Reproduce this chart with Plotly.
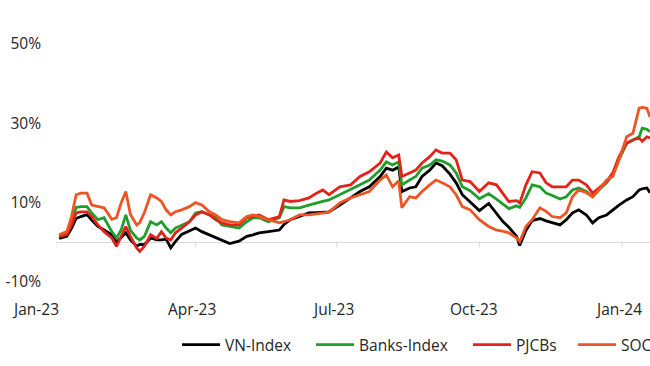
import plotly.graph_objects as go

dates = [
    "2023-01-03", "2023-01-08", "2023-01-11", "2023-01-14", "2023-01-17", "2023-01-21", "2023-01-24",
    "2023-01-28", "2023-02-01", "2023-02-06", "2023-02-09", "2023-02-12", "2023-02-15", "2023-02-18",
    "2023-02-22", "2023-02-24", "2023-02-27", "2023-03-03", "2023-03-07", "2023-03-10", "2023-03-13",
    "2023-03-16", "2023-03-19", "2023-03-23", "2023-03-28", "2023-04-01", "2023-04-05", "2023-04-10",
    "2023-04-14", "2023-04-18", "2023-04-23", "2023-04-29", "2023-05-04", "2023-05-08", "2023-05-12",
    "2023-05-18", "2023-05-25", "2023-05-28", "2023-06-01", "2023-06-07", "2023-06-13", "2023-06-18",
    "2023-06-22", "2023-06-26", "2023-07-03", "2023-07-10", "2023-07-16", "2023-07-22", "2023-07-29",
    "2023-08-02", "2023-08-06", "2023-08-10", "2023-08-12", "2023-08-17", "2023-08-21", "2023-08-25",
    "2023-08-30", "2023-09-03", "2023-09-07", "2023-09-12", "2023-09-16", "2023-09-20", "2023-09-25",
    "2023-10-01", "2023-10-07", "2023-10-12", "2023-10-16", "2023-10-20", "2023-10-25", "2023-10-27",
    "2023-10-31", "2023-11-04", "2023-11-09", "2023-11-13", "2023-11-17", "2023-11-22", "2023-11-26",
    "2023-11-30", "2023-12-04", "2023-12-09", "2023-12-13", "2023-12-17", "2023-12-22", "2023-12-26",
    "2023-12-30", "2024-01-04", "2024-01-08", "2024-01-12", "2024-01-14", "2024-01-17", "2024-01-19",
]

vn_index = [
    1.0, 1.5, 3.5, 6.0, 6.5, 7.0, 5.6, 4.0, 3.1, 1.9, 0.0, 1.1, 2.4, 0.6, -1.0, -0.5, -0.6,
    1.1, 0.6, 0.6, 0.8, -1.4, 0.2, 2.0, 3.0, 3.6, 2.7, 1.9, 1.1, 0.6, -0.3, 0.3, 1.5, 1.9,
    2.4, 2.7, 3.1, 4.5, 5.7, 6.5, 7.4, 7.5, 7.6, 7.7, 9.4, 11.2, 12.8, 14.0, 16.6, 18.7, 18.2,
    19.0, 12.8, 13.7, 14.0, 16.6, 18.2, 20.0, 19.3, 17.2, 15.0, 12.0, 10.2, 8.0, 9.8, 7.4, 5.3,
    3.8, 1.5, -0.8, 3.0, 5.5, 6.0, 5.4, 4.9, 4.4, 5.7, 7.4, 8.2, 6.9, 4.9, 6.2, 6.9, 8.2, 9.4,
    10.7, 11.5, 13.2, 13.5, 13.7, 12.5,
]

banks_index = [
    1.6, 2.0, 5.5, 8.8, 9.0, 9.0, 7.4, 5.7, 6.2, 2.7, 1.1, 3.1, 6.9, 3.0, 1.1, 0.6, 1.5,
    5.2, 4.4, 5.2, 3.6, 2.4, 3.6, 4.4, 5.2, 7.4, 7.7, 6.9, 6.2, 4.4, 4.0, 3.6, 5.2, 6.2,
    6.2, 5.2, 6.2, 9.0, 8.7, 8.7, 9.4, 10.0, 10.3, 10.7, 12.0, 13.2, 14.5, 15.7, 18.2, 20.3, 19.5,
    20.3, 14.5, 15.7, 16.6, 18.7, 19.5, 20.8, 20.5, 19.5, 17.5, 14.0, 13.0, 11.0, 12.3, 10.9, 9.8,
    8.5, 9.2, 8.8, 11.2, 14.5, 14.0, 12.4, 11.8, 10.9, 11.5, 13.2, 13.7, 12.8, 11.5, 13.2, 15.0, 17.0, 20.8,
    25.0, 25.8, 26.6, 28.8, 28.5, 27.9,
]

pjcbs = [
    1.4, 2.0, 4.4, 7.4, 7.7, 7.7, 6.5, 4.4, 2.7, 1.1, -1.0, 1.5, 4.0, 1.5, -1.4, -2.3, -1.0,
    1.9, 1.0, 2.7, 1.1, 0.6, 2.4, 3.6, 5.2, 6.9, 7.7, 6.9, 5.7, 4.9, 4.4, 4.4, 6.2, 6.5,
    6.9, 5.7, 6.5, 10.7, 10.3, 10.5, 11.2, 12.4, 13.2, 12.0, 14.0, 14.5, 16.6, 17.8, 20.0, 22.8, 21.3,
    22.0, 16.6, 17.5, 18.2, 20.0, 21.6, 23.3, 22.5, 22.5, 20.8, 15.7, 15.3, 12.8, 15.0, 14.5, 12.4,
    10.3, 10.5, 9.9, 14.5, 17.8, 17.5, 15.0, 14.0, 14.0, 14.0, 15.7, 15.7, 14.5, 12.4, 13.7, 15.3, 17.5, 21.6,
    25.0, 25.8, 26.3, 25.5, 26.6, 26.3,
]

socbs = [
    1.9, 2.7, 6.5, 12.0, 12.4, 12.4, 9.4, 9.0, 8.7, 5.8, 6.2, 9.9, 12.8, 7.0, 4.4, 5.0, 7.5,
    12.0, 11.2, 10.3, 8.2, 6.9, 7.7, 8.2, 9.0, 10.0, 9.4, 7.7, 6.9, 5.7, 5.2, 4.9, 6.5, 6.9,
    6.5, 5.7, 4.9, 5.2, 5.7, 6.9, 6.9, 7.2, 7.4, 7.6, 9.9, 11.2, 12.0, 12.8, 15.7, 17.0, 14.0,
    15.5, 8.7, 11.5, 11.2, 12.8, 14.5, 15.7, 15.0, 14.0, 12.0, 9.0, 8.2, 5.7, 4.0, 3.1, 2.8,
    2.4, 1.1, 0.2, 4.0, 5.7, 8.7, 7.8, 6.5, 6.2, 7.4, 11.5, 13.2, 12.5, 11.5, 13.2, 15.7, 16.6, 20.8,
    26.6, 27.5, 33.8, 34.0, 33.8, 31.6,
]

series_names = ["VN-Index", "Banks-Index", "PJCBs", "SOCBs"]
series_values = [vn_index, banks_index, pjcbs, socbs]
series_colors = ["#000000", "#1f9e2c", "#e2231a", "#ee5424"]

y_tick_vals = [-10, 10, 30, 50]
y_tick_labels = ["-10%", "10%", "30%", "50%"]
x_tick_dates = ["2023-01-01", "2023-04-01", "2023-07-01", "2023-10-01", "2024-01-01"]
x_tick_labels = ["Jan-23", "Apr-23", "Jul-23", "Oct-23", "Jan-24"]
x_label_shift = [-21, -4, -4, -5, -4]

FONT = "Open Sans"
TEXT_COLOR = "#262626"

fig = go.Figure()
legend_ids = ["legend", "legend2", "legend3", "legend4"]
for name, vals, col, lg in zip(series_names, series_values, series_colors, legend_ids):
    fig.add_trace(go.Scatter(
        x=dates, y=vals, mode="lines", name=name,
        line=dict(color=col, width=2.8), legend=lg,
    ))

# tick marks on the zero line
shapes = []
for d in x_tick_dates:
    shapes.append(dict(type="line", xref="x", yref="y", x0=d, x1=d,
                       ysizemode="pixel", yanchor=0, y0=0, y1=-5,
                       line=dict(color="#d9d9d9", width=1)))

annotations = []
for d, lab, sh in zip(x_tick_dates, x_tick_labels, x_label_shift):
    annotations.append(dict(x=d, xref="x", y=0, yref="paper", yanchor="top",
                            yshift=-14, xshift=sh, text=lab, showarrow=False,
                            font=dict(family=FONT, size=15.5, color=TEXT_COLOR)))

leg_common = dict(orientation="h", yanchor="middle", y=-0.265, xanchor="left",
                  font=dict(family=FONT, size=15.5, color=TEXT_COLOR),
                  bgcolor="rgba(0,0,0,0)", itemwidth=38, tracegroupgap=0)
legend_px = [177, 311, 468, 573]
plot_left, plot_w = 56, 594

fig.update_layout(
    width=650, height=366,
    margin=dict(l=56, r=0, t=44, b=84, autoexpand=False),
    plot_bgcolor="white", paper_bgcolor="white",
    font=dict(family=FONT, size=15.5, color=TEXT_COLOR),
    xaxis=dict(type="date", range=["2023-01-01", "2024-01-19"], showgrid=False,
               showticklabels=False, ticks="", showline=False, zeroline=False),
    yaxis=dict(range=[-10, 50], tickmode="array", tickvals=y_tick_vals, ticktext=y_tick_labels,
               showgrid=False, ticks="", showline=False, zeroline=True, zerolinecolor="#d9d9d9",
               zerolinewidth=1, ticklabelstandoff=14,
               tickfont=dict(family=FONT, size=15.5, color=TEXT_COLOR)),
    shapes=shapes,
    annotations=annotations,
    showlegend=True,
)
for lg, px in zip(legend_ids, legend_px):
    fig.update_layout({lg: dict(leg_common, x=(px - plot_left) / plot_w)})

fig.write_html("out.html", config={"displayModeBar": False},
               post_script="document.body.style.margin='0';document.body.style.overflow='hidden';")
